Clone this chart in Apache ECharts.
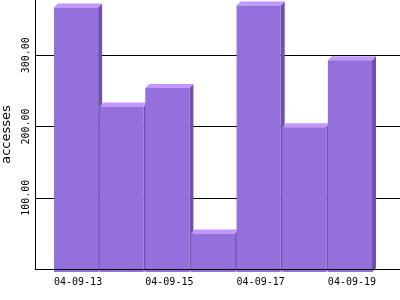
<!DOCTYPE html>
<html>
<head>
<meta charset="utf-8">
<script src="https://cdn.jsdelivr.net/npm/echarts@6/dist/echarts.min.js"></script>
<style>html,body{margin:0;padding:0;background:#fff}#c{width:400px;height:300px}</style>
</head>
<body>
<div id="c"></div>
<script>
var categories = ['04-09-13','04-09-14','04-09-15','04-09-16','04-09-17','04-09-18','04-09-19'];
var values = [367, 228, 254, 50, 370, 199, 293];
var yTicks = [0, 100, 200, 300, 400];

var chart = echarts.init(document.getElementById('c'), null, {renderer: 'canvas'});
var mono = '"DejaVu Sans Mono", monospace';
var D = 4;

chart.setOption({
  animation: false,
  backgroundColor: '#ffffff',
  grid: [
    {left: 35, right: 0, top: -16, bottom: 31, containLabel: false, outerBoundsMode: 'none'},
    {left: 54, right: 26.5, top: -16, bottom: 31, containLabel: false, outerBoundsMode: 'none'}
  ],
  xAxis: [
    {gridIndex: 0, type: 'value', min: 0, max: 1, z: 10,
     axisLine: {show: true, lineStyle: {color: '#000', width: 1}},
     axisTick: {show: false}, axisLabel: {show: false}, splitLine: {show: false}},
    {gridIndex: 1, type: 'value', min: 0, max: categories.length, interval: 2,
     axisLine: {show: false}, axisTick: {show: false}, splitLine: {show: false},
     axisLabel: {show: true, align: 'left', margin: 8, color: '#000', fontFamily: mono, fontSize: 10,
       showMaxLabel: false,
       formatter: function (v) { return categories[v] || ''; }}}
  ],
  yAxis: [
    {gridIndex: 0, type: 'value', min: yTicks[0], max: yTicks[yTicks.length - 1], interval: 100, z: 0,
     name: 'accesses', nameLocation: 'middle', nameRotate: 90, nameGap: 19,
     nameTextStyle: {color: '#000', fontFamily: '"DejaVu Sans", sans-serif', fontSize: 13, padding: [0, 16, 0, 0]},
     axisLine: {show: true, lineStyle: {color: '#000', width: 1}},
     axisTick: {show: false},
     splitLine: {show: true, lineStyle: {color: '#000', width: 1}},
     axisLabel: {show: true, rotate: 90, margin: 4, color: '#000', fontFamily: mono, fontSize: 10,
       showMinLabel: false, showMaxLabel: false,
       formatter: function (v) { return v.toFixed(2); }}},
    {gridIndex: 1, type: 'value', min: yTicks[0], max: yTicks[yTicks.length - 1],
     show: false}
  ],
  series: [{
    type: 'custom',
    xAxisIndex: 1, yAxisIndex: 1, z: 2,
    data: values.map(function (v, i) { return [i, v]; }),
    renderItem: function (params, api) {
      var i = api.value(0), v = api.value(1);
      var p0 = api.coord([i, v]);
      var p1 = api.coord([i + 1, 0]);
      var x0 = p0[0], top = p0[1];
      var fr = p1[0] - 1.5;
      var bottom = p1[1] + 3;
      return {
        type: 'group',
        children: [
          {type: 'polygon', shape: {points: [[fr, top], [fr + D, top - D], [fr + D, bottom - D], [fr, bottom]]},
           style: {fill: '#7152aa'}},
          {type: 'polygon', shape: {points: [[x0, top], [x0 + D, top - D], [fr + D, top - D], [fr, top]]},
           style: {fill: '#c496ff'}},
          {type: 'rect', shape: {x: x0, y: top, width: fr - x0, height: bottom - top},
           style: {fill: '#9370db'}}
        ]
      };
    }
  }]
});
</script>
</body>
</html>
